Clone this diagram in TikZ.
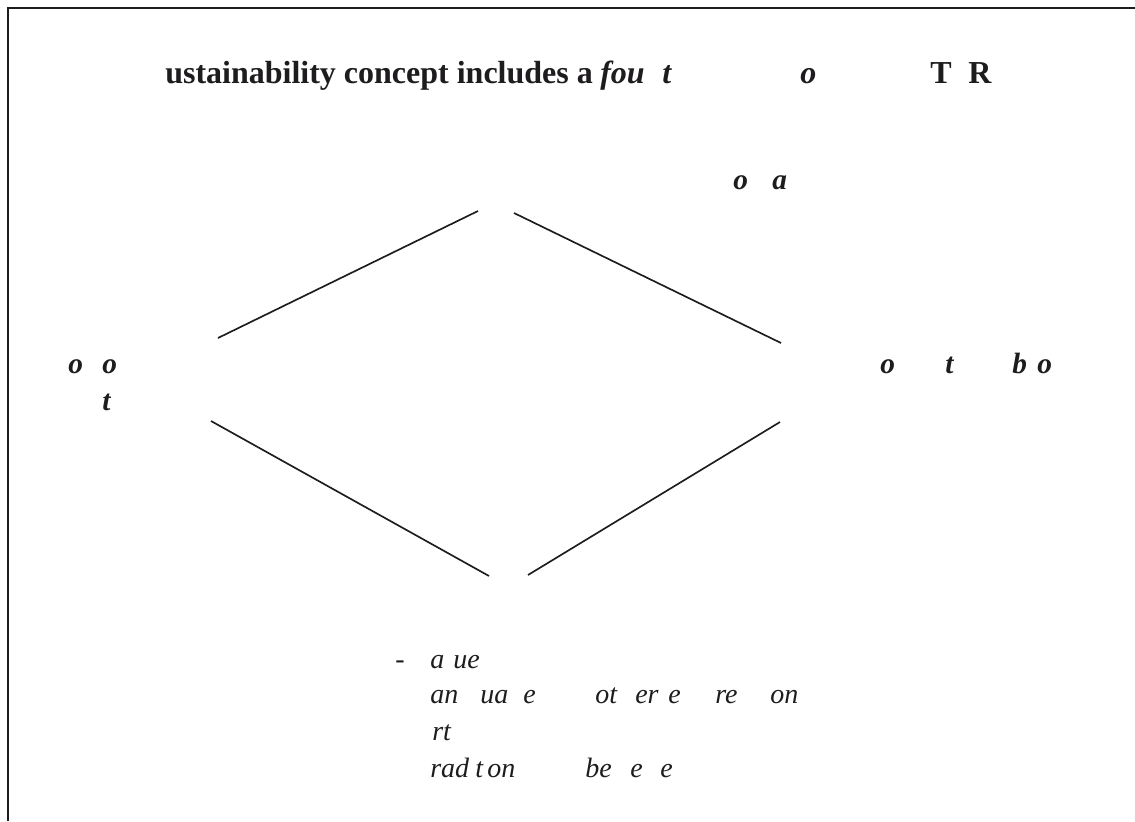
\documentclass[tikz,border=0pt]{standalone}
\usepackage{fontspec}
\setmainfont{Liberation Serif}
\usepackage{tikz}
\usetikzlibrary{calc}
\usepackage{xcolor}
\definecolor{inkblack}{RGB}{30, 28, 30}

\tikzset{
  frag/.style={inner sep=0pt, anchor=base west, text=inkblack},
  headtxt/.style={frag, font=\fontsize{24}{29}\selectfont\bfseries},
  headit/.style={frag, font=\fontsize{24}{29}\selectfont\bfseries\itshape},
  pillar/.style={frag, font=\fontsize{22}{26}\selectfont\bfseries\itshape},
  notetxt/.style={frag, font=\fontsize{21}{25}\selectfont\itshape},
  edge/.style={inkblack, line width=1.25pt}
}

\begin{document}
\begin{tikzpicture}[x=0.75pt, y=-0.75pt]

  \useasboundingbox (0,0) rectangle (1135,821);

  % Frame (top and left only)
  \draw[inkblack, line width=1.5pt] (8,821) -- (8,8) -- (1135,8);

  % Title fragments
  \node[headtxt] (title) at (165,83) {ustainability concept includes a};
  \node[headit] (titlefou) at (600,83) {fou};
  \node[headit] (titlet) at (662,83) {t};
  \node[headit] (titleo) at (800,83) {o};
  \node[headtxt] (titleT) at (930,83) {T};
  \node[headtxt] (titleR) at (968,83) {R};

  % Top pillar
  \node[pillar] (topo) at (733,189) {o};
  \node[pillar] (topa) at (772,189) {a};

  % Left pillar
  \node[pillar] (lefto) at (68,373) {o};
  \node[pillar] (lefto2) at (102,373) {o};
  \node[pillar] (leftt) at (102,410) {t};

  % Right pillar
  \node[pillar] (righto) at (880,373) {o};
  \node[pillar] (rightt) at (945,373) {t};
  \node[pillar] (rightb) at (1012,373) {b};
  \node[pillar] (righto2) at (1037,373) {o};

  % Bottom pillar
  \node[frag, font=\fontsize{21}{25}\selectfont] (dash) at (395,668) {-};
  \node[notetxt] (bota) at (430,668) {a};
  \node[notetxt] (botue) at (453,668) {ue};
  \node[notetxt] (botan) at (430,703) {an};
  \node[notetxt] (botua) at (480,703) {ua};
  \node[notetxt] (bote) at (523,703) {e};
  \node[notetxt] (botot) at (595,703) {ot};
  \node[notetxt] (boter) at (635,703) {er};
  \node[notetxt] (bote2) at (668,703) {e};
  \node[notetxt] (botre) at (715,703) {re};
  \node[notetxt] (boton) at (770,703) {on};
  \node[notetxt] (botrt) at (432,740) {rt};
  \node[notetxt] (botrad) at (430,777) {rad};
  \node[notetxt] (bott) at (475,777) {t};
  \node[notetxt] (boton2) at (487,777) {on};
  \node[notetxt] (botbe) at (585,777) {be};
  \node[notetxt] (bote3) at (630,777) {e};
  \node[notetxt] (bote4) at (660,777) {e};

  % Diamond corners
  \coordinate (ulA) at (218,338);
  \coordinate (ulB) at (478,211);
  \coordinate (urA) at (514,213);
  \coordinate (urB) at (781,343);
  \coordinate (llA) at (211,421);
  \coordinate (llB) at (489,576);
  \coordinate (lrA) at (528,575);
  \coordinate (lrB) at (780,422);

  \draw[edge] (ulA) -- (ulB);
  \draw[edge] (urA) -- (urB);
  \draw[edge] (llA) -- (llB);
  \draw[edge] (lrA) -- (lrB);

\end{tikzpicture}
\end{document}
